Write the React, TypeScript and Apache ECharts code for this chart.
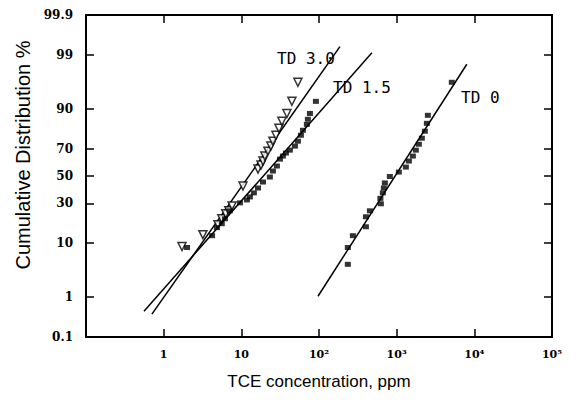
import React, { useEffect, useRef } from "react";
import * as echarts from "echarts";

// ---- data: [concentration (ppm), cumulative %] ----
const TD30_POINTS: [number, number][] = [
  [1.72, 8.8], [3.2, 13.0], [5.0, 17.5], [5.6, 20.6], [6.3, 23.4], [6.9, 25.2], [7.6, 28.3],
  [10.5, 42.4], [16.4, 55.3], [17.9, 58.3], [19.0, 61.3], [20.1, 64.9], [22.0, 68.3],
  [24.0, 71.7], [25.5, 74.8], [27.9, 78.3], [30.5, 82.0], [33.3, 85.3], [38.6, 88.5],
  [44.8, 92.4], [53.5, 96.4],
];
const TD15_POINTS: [number, number][] = [
  [2.0, 8.5], [4.2, 12.6], [4.85, 16.1], [5.6, 18.0], [6.15, 20.6], [7.1, 25.2], [9.6, 30.3],
  [11.8, 32.3], [12.9, 34.4], [14.5, 37.3], [16.4, 40.9], [19.0, 45.4], [23.3, 49.2],
  [25.5, 53.8], [28.7, 57.6], [31.4, 62.7], [34.3, 64.9], [37.5, 67.0], [42.2, 69.0],
  [49.0, 71.7], [53.5, 74.8], [58.5, 78.3], [62.1, 81.0], [69.8, 83.9], [71.9, 86.2],
  [76.4, 88.5], [91.2, 92.4],
];
const TD0_POINTS: [number, number][] = [
  [235, 4.5], [235, 8.5], [273, 12.6], [402, 16.5], [402, 21.7], [452, 25.2], [626, 29.7],
  [617, 33.4], [664, 37.3], [684, 40.9], [705, 44.7], [817, 49.6], [1067, 53.0],
  [1313, 56.8], [1436, 61.3], [1616, 64.9], [1767, 69.0], [1931, 72.9], [2110, 76.6],
  [2307, 80.5], [2448, 84.4], [2522, 87.8], [5129, 96.4],
];
// fitted lines (end points)
const TD30_LINE: [number, number][] = [[0.706, 0.4], [186, 99.35]];
const TD15_LINE: [number, number][] = [[0.558, 0.47], [480, 99.1]];
const TD0_LINE: [number, number][] = [[97, 1.05], [8000, 98.4]];

const Y_TICK_PERCENTS = [0.1, 1, 10, 30, 50, 70, 90, 99, 99.9];
const Y_TICK_LABELS = ["0.1", "1", "10", "30", "50", "70", "90", "99", "99.9"];
const X_TICK_LABELS = ["", "1", "10", "10²", "10³", "10⁴", "10⁵"]; // 0.1 .. 1e5

// inverse standard normal CDF (Acklam)
function probit(p: number): number {
  const a = [-3.969683028665376e1, 2.209460984245205e2, -2.759285104469687e2, 1.38357751867269e2, -3.066479806614716e1, 2.506628277459239];
  const b = [-5.447609879822406e1, 1.615858368580409e2, -1.556989798598866e2, 6.680131188771972e1, -1.328068155288572e1];
  const c = [-7.784894002430293e-3, -3.223964580411365e-1, -2.400758277161838, -2.549671348042297, 4.374664141464968, 2.938163982698783];
  const d = [7.784695709041462e-3, 3.224671290700398e-1, 2.445134137142996, 3.754408661907416];
  const pl = 0.02425;
  if (p < pl) {
    const q = Math.sqrt(-2 * Math.log(p));
    return (((((c[0] * q + c[1]) * q + c[2]) * q + c[3]) * q + c[4]) * q + c[5]) / ((((d[0] * q + d[1]) * q + d[2]) * q + d[3]) * q + 1);
  }
  if (p <= 1 - pl) {
    const q = p - 0.5, r = q * q;
    return ((((((a[0] * r + a[1]) * r + a[2]) * r + a[3]) * r + a[4]) * r + a[5]) * q) / (((((b[0] * r + b[1]) * r + b[2]) * r + b[3]) * r + b[4]) * r + 1);
  }
  const q = Math.sqrt(-2 * Math.log(1 - p));
  return -(((((c[0] * q + c[1]) * q + c[2]) * q + c[3]) * q + c[4]) * q + c[5]) / ((((d[0] * q + d[1]) * q + d[2]) * q + d[3]) * q + 1);
}

const toZ = (pts: [number, number][]) => pts.map(([x, p]) => [x, probit(p / 100)]);

export default function App() {
  const ref = useRef<HTMLDivElement>(null);
  useEffect(() => {
    document.body.style.margin = "0";
    const chart = echarts.init(ref.current!, null, { renderer: "svg" });
    const zTicks = Y_TICK_PERCENTS.map((p) => probit(p / 100));
    const yMin = zTicks[0];
    const yMax = zTicks[zTicks.length - 1];
    const yLabel = (v: number) => {
      const i = zTicks.findIndex((z) => Math.abs(z - v) < 1e-6);
      return i >= 0 ? Y_TICK_LABELS[i] : "";
    };
    const xLabel = (v: number) => {
      const e = Math.round(Math.log10(v));
      return X_TICK_LABELS[e + 1] ?? "";
    };
    const axisLine = { show: true, onZero: false, lineStyle: { color: "#000", width: 2 } };
    const axisTick = { show: true, inside: true, length: 8, lineStyle: { color: "#000", width: 1.5 } };
    const tickFont = { fontFamily: "DejaVu Serif", fontWeight: "bold" as const, color: "#000" };
    const xBase = { type: "log" as const, logBase: 10, min: 0.1, max: 100000, splitLine: { show: false }, minorTick: { show: false }, axisLine, axisTick };
    const yBase = { type: "value" as const, min: yMin, max: yMax, splitLine: { show: false }, axisLine };
    const lineSeries = (name: string, pts: [number, number][]) => ({
      name, type: "line", data: toZ(pts), symbol: "none", lineStyle: { color: "#000", width: 1.5 }, z: 2,
    });
    chart.setOption({
      animation: false,
      backgroundColor: "#fff",
      grid: { left: 86, right: 26, top: 15, bottom: 66, outerBoundsMode: "none", containLabel: false },
      xAxis: [
        {
          ...xBase, position: "bottom",
          axisLabel: { ...tickFont, fontSize: 11, margin: 12, formatter: xLabel },
          name: "TCE concentration, ppm", nameLocation: "middle", nameGap: 36,
          nameTextStyle: { fontFamily: "Liberation Sans", fontSize: 17, color: "#000" },
        },
        { ...xBase, position: "top", axisLabel: { show: false } },
      ],
      yAxis: [
        {
          ...yBase, position: "left",
          axisTick: { ...axisTick, customValues: zTicks },
          axisLabel: { ...tickFont, fontSize: 12, margin: 13, customValues: zTicks, formatter: yLabel },
        },
        {
          ...yBase, position: "right",
          axisTick: { ...axisTick, customValues: zTicks },
          axisLabel: { show: false, customValues: zTicks },
        },
      ],
      series: [
        lineSeries("TD 3.0 fit", TD30_LINE),
        lineSeries("TD 1.5 fit", TD15_LINE),
        lineSeries("TD 0 fit", TD0_LINE),
        {
          name: "TD 3.0", type: "scatter", data: toZ(TD30_POINTS), symbol: "triangle", symbolRotate: 180, symbolSize: 8,
          itemStyle: { color: "#fff", borderColor: "#000", borderWidth: 1.5 }, z: 3,
        },
        {
          name: "TD 1.5", type: "scatter", data: toZ(TD15_POINTS), symbol: "rect", symbolSize: [6, 5],
          itemStyle: { color: "#000" }, z: 3,
        },
        {
          name: "TD 0", type: "scatter", data: toZ(TD0_POINTS), symbol: "rect", symbolSize: [6, 5],
          itemStyle: { color: "#000" }, z: 3,
        },
      ],
      graphic: [
        {
          type: "text", x: 23, y: 155, rotation: Math.PI / 2,
          style: { text: "Cumulative Distribution %", font: "20px 'Liberation Sans'", fill: "#000", align: "center", verticalAlign: "middle" },
        },
        { type: "text", left: 277, top: 50, style: { text: "TD 3.0", font: "16px 'DejaVu Sans Mono'", fill: "#000" } },
        { type: "text", left: 333, top: 79, style: { text: "TD 1.5", font: "16px 'DejaVu Sans Mono'", fill: "#000" } },
        { type: "text", left: 461, top: 89, style: { text: "TD 0", font: "16px 'DejaVu Sans Mono'", fill: "#000" } },
      ],
    });
    return () => chart.dispose();
  }, []);
  return <div ref={ref} style={{ width: 578, height: 403 }} />;
}
